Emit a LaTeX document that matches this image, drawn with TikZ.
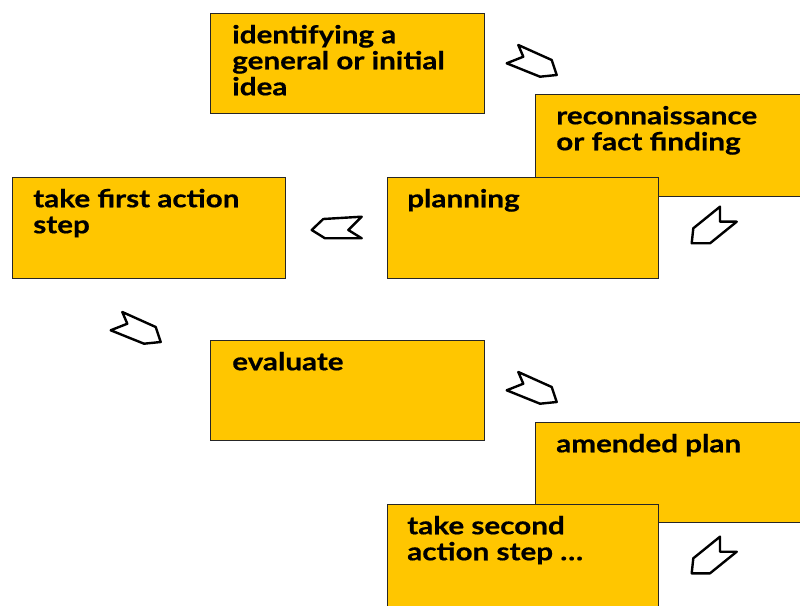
\documentclass[tikz,border=0pt]{standalone}
\usepackage{fontspec}
\newfontfamily\boxfont{Lato}[FakeStretch=1.2, BoldFeatures={FakeBold=0.6}]
\definecolor{boxfill}{RGB}{255,198,0}
\newcommand{\fl}{\rule{0pt}{15pt}}
\tikzset{
  stickybox/.style={draw=black!85, line width=0.8pt, fill=boxfill, inner sep=0pt, anchor=north west},
  boxtext/.style={anchor=north west, inner sep=0pt, align=left, font=\boxfont\bfseries\fontsize{18.5pt}{19.5pt}\selectfont},
  chev/.style={draw=black, fill=white, line width=1.8pt, line join=round},
}
\begin{document}
\begin{tikzpicture}[x=0.75pt, y=-0.75pt]
\useasboundingbox (0,0) rectangle (800,606);
\clip (0,0) rectangle (800,606);
% boxes
\node[stickybox, minimum width={274*0.75pt}, minimum height={100*0.75pt}] (b1) at (210,13) {};
\node[boxtext] (t1) at (232,23) {\fl identifying a\\general or initial\\idea};
\node[stickybox, minimum width={290*0.75pt}, minimum height={102*0.75pt}] (b2) at (535,94) {};
\node[boxtext] (t2) at (556,104) {\fl reconnaissance\\or fact finding};
\node[stickybox, minimum width={271*0.75pt}, minimum height={101*0.75pt}] (b3) at (387,177) {};
\node[boxtext] (t3) at (407,187) {\fl planning};
\node[stickybox, minimum width={273*0.75pt}, minimum height={101*0.75pt}] (b4) at (12,177) {};
\node[boxtext] (t4) at (33,187) {\fl take first action\\step};
\node[stickybox, minimum width={274*0.75pt}, minimum height={100*0.75pt}] (b5) at (210,340) {};
\node[boxtext] (t5) at (232,350) {\fl evaluate};
\node[stickybox, minimum width={290*0.75pt}, minimum height={100*0.75pt}] (b6) at (535,422) {};
\node[boxtext] (t6) at (556,432) {\fl amended plan};
\node[stickybox, minimum width={271*0.75pt}, minimum height={120*0.75pt}] (b7) at (387,504) {};
\node[boxtext] (t7) at (407,514) {\fl take second\\action step \dots};
% chevron arrows
\draw[chev, shift={(532,62)}] (-13.7,-17) -- (-8.7,-5.3) -- (-25.3,1.3) -- (8,14.7) -- (24.7,13) -- (19.7,-2) -- cycle;
\draw[chev, shift={(714,225)}] (6,-18.3) -- (6,-3.3) -- (22.7,-3.3) -- (-4,18.3) -- (-22.3,18.3) -- (-20.7,3.3) -- cycle;
\draw[chev, shift={(337,228)}] (-13.7,-9) -- (24.7,-11.3) -- (11.3,2) -- (24.7,10.3) -- (-12,10.3) -- (-25.3,2) -- cycle;
\draw[chev, shift={(136,329)}] (-13.7,-17) -- (-8.7,-5.3) -- (-25.3,1.3) -- (8,14.7) -- (24.7,13) -- (19.7,-2) -- cycle;
\draw[chev, shift={(532,389)}] (-13.7,-17) -- (-8.7,-5.3) -- (-25.3,1.3) -- (8,14.7) -- (24.7,13) -- (19.7,-2) -- cycle;
\draw[chev, shift={(714,555)}] (6,-18.3) -- (6,-3.3) -- (22.7,-3.3) -- (-4,18.3) -- (-22.3,18.3) -- (-20.7,3.3) -- cycle;
\end{tikzpicture}
\end{document}
